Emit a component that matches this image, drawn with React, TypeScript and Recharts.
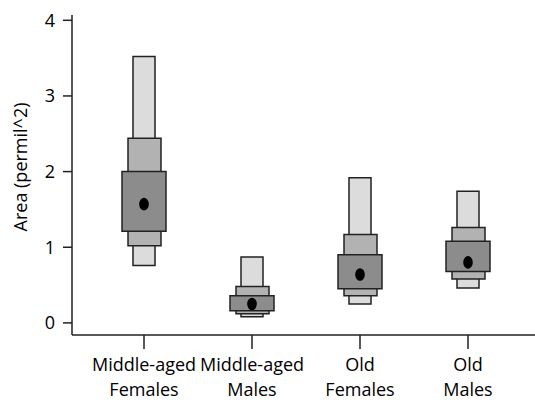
import { ComposedChart, Bar, Line, XAxis, YAxis } from "recharts";

const CATEGORIES = ["Middle-aged Females", "Middle-aged Males", "Old Females", "Old Males"];
const OUTER_LOW = [0.76, 0.08, 0.25, 0.46];
const OUTER_HIGH = [3.52, 0.87, 1.92, 1.74];
const MID_LOW = [1.02, 0.12, 0.36, 0.58];
const MID_HIGH = [2.44, 0.48, 1.17, 1.26];
const INNER_LOW = [1.21, 0.16, 0.45, 0.68];
const INNER_HIGH = [2.0, 0.36, 0.9, 1.08];
const MEDIAN = [1.57, 0.25, 0.64, 0.8];
const Y_TICKS = [0, 1, 2, 3, 4];

const data = CATEGORIES.map((name, i) => ({
  name,
  outer: [OUTER_LOW[i], OUTER_HIGH[i]],
  mid: [MID_LOW[i], MID_HIGH[i]],
  inner: [INNER_LOW[i], INNER_HIGH[i]],
  median: MEDIAN[i],
}));

const font = "'Open Sans', sans-serif";
const ink = "#222";
const pad = { left: 18, right: 13 };

const CategoryTick = (props: any) => {
  const { x, y, payload } = props;
  const parts = String(payload.value).split(" ");
  return (
    <text x={x} y={y} textAnchor="middle" fontFamily={font} fontSize={18} fill="#000">
      <tspan x={x} dy={20}>{parts[0]}</tspan>
      <tspan x={x} dy={25}>{parts.slice(1).join(" ")}</tspan>
    </text>
  );
};

const MedianDot = (props: any) => {
  const { cx, cy, index } = props;
  if (cx == null || cy == null) return <g key={index} />;
  return <ellipse key={index} cx={cx} cy={cy} rx={4.8} ry={6.3} fill="#000" />;
};

const AxisTitle = (props: any) => {
  const vb = props.viewBox || {};
  const cy = (vb.y ?? 15) + (vb.height ?? 320) / 2 - 8;
  return (
    <text
      x={20}
      y={cy}
      transform={`rotate(-90, 20, ${cy})`}
      textAnchor="middle"
      dominantBaseline="central"
      fontFamily={font}
      fontSize={18}
      fill="#000"
    >
      Area (permil^2)
    </text>
  );
};

export default function App() {
  return (
    <div style={{ position: "absolute", left: 0, top: 0, background: "#fff" }}>
      <ComposedChart width={535} height={406} data={data} margin={{ top: 15, right: 0, bottom: 0, left: 0 }}>
        <XAxis xAxisId="outer" dataKey="name" hide orientation="top" height={0} padding={pad} />
        <XAxis xAxisId="mid" dataKey="name" hide orientation="top" height={0} padding={pad} />
        <XAxis xAxisId="inner" dataKey="name" hide orientation="top" height={0} padding={pad} />
        <XAxis
          xAxisId="main"
          dataKey="name"
          padding={pad}
          height={71}
          interval={0}
          tickSize={14}
          tick={<CategoryTick />}
          axisLine={{ stroke: ink, strokeWidth: 1.5 }}
          tickLine={{ stroke: ink, strokeWidth: 1.5 }}
        />
        <YAxis
          type="number"
          domain={[-0.16, 4.07]}
          allowDataOverflow
          ticks={Y_TICKS}
          width={72}
          tickSize={9}
          tickMargin={8}
          tick={{ fontFamily: font, fontSize: 18, fill: "#000" }}
          axisLine={{ stroke: ink, strokeWidth: 1.5 }}
          tickLine={{ stroke: ink, strokeWidth: 1.5 }}
          label={<AxisTitle />}
        />
        <Bar xAxisId="outer" dataKey="outer" barSize={22} fill="#dcdcdc" stroke={ink} strokeWidth={1.5} isAnimationActive={false} />
        <Bar xAxisId="mid" dataKey="mid" barSize={33} fill="#b2b2b2" stroke={ink} strokeWidth={1.5} isAnimationActive={false} />
        <Bar xAxisId="inner" dataKey="inner" barSize={44} fill="#8c8c8c" stroke={ink} strokeWidth={1.5} isAnimationActive={false} />
        <Line
          xAxisId="main"
          dataKey="median"
          stroke="none"
          dot={<MedianDot />}
          activeDot={false}
          isAnimationActive={false}
        />
      </ComposedChart>
    </div>
  );
}
